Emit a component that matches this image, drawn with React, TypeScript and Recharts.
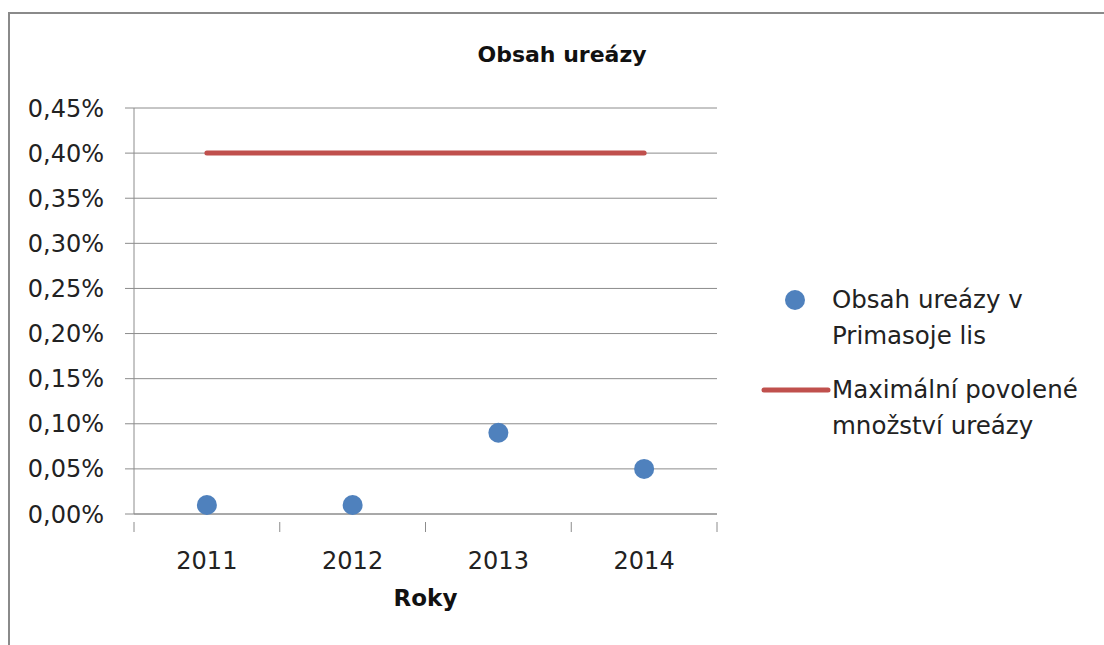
import { ComposedChart, Scatter, Line, XAxis, YAxis, CartesianGrid, Label } from "recharts";

// Roky a hodnoty obsahu ureázy
const years = ["2011", "2012", "2013", "2014"];
const ureaseContent = [0.0001, 0.0001, 0.0009, 0.0005];
const maxAllowed = [0.004, 0.004, 0.004, 0.004];
const yTicks = [0, 0.0005, 0.001, 0.0015, 0.002, 0.0025, 0.003, 0.0035, 0.004, 0.0045];

const data = years.map((year, i) => ({
  year,
  content: ureaseContent[i],
  max: maxAllowed[i],
}));

const FONT = "'DejaVu Sans', sans-serif";
const GRID = "#8c8c8c";
const BLUE = "#4F81BD";
const RED = "#C0504D";

const W = 1104;
const H = 645;
const MARGIN = { top: 108, right: 387, bottom: 0, left: 0 };
const Y_WIDTH = 134;
const BAND_HALF = (W - MARGIN.right - Y_WIDTH) / years.length / 2;

const formatPct = (v: number) => (v * 100).toFixed(2).replace(".", ",") + "%";

const XTick = (props: any) => {
  const { x, y, payload, index } = props;
  return (
    <g>
      <line x1={x - BAND_HALF} x2={x - BAND_HALF} y1={y} y2={y + 10} stroke={GRID} />
      {index === years.length - 1 && (
        <line x1={x + BAND_HALF} x2={x + BAND_HALF} y1={y} y2={y + 10} stroke={GRID} />
      )}
      <text x={x} y={y + 47} textAnchor="middle" fontSize={24} fill="#222" fontFamily={FONT}>
        {payload.value}
      </text>
    </g>
  );
};

const ChartLegend = () => (
  <div
    style={{
      position: "absolute",
      left: 760,
      top: 282,
      fontFamily: FONT,
      fontSize: 24.5,
      color: "#222",
      lineHeight: "36px",
    }}
  >
    <div style={{ display: "flex", alignItems: "flex-start", marginBottom: 18 }}>
      <svg width={72} height={36}>
        <circle cx={35} cy={18} r={10} fill={BLUE} />
      </svg>
      <div>
        Obsah ureázy v<br />Primasoje lis
      </div>
    </div>
    <div style={{ display: "flex", alignItems: "flex-start" }}>
      <svg width={72} height={36}>
        <line x1={4} x2={68} y1={18} y2={18} stroke={RED} strokeWidth={5} strokeLinecap="round" />
      </svg>
      <div>
        Maximální povolené<br />množství ureázy
      </div>
    </div>
  </div>
);

export default function App() {
  return (
    <div style={{ position: "absolute", left: 0, top: 0, width: W, height: H, background: "#fff" }}>
      <div
        style={{
          position: "absolute",
          left: 8,
          top: 12,
          right: 0,
          bottom: 0,
          borderLeft: "2px solid #8a8a8a",
          borderTop: "2px solid #8a8a8a",
        }}
      />
      <div
        style={{
          position: "absolute",
          left: 562,
          top: 42,
          transform: "translateX(-50%)",
          whiteSpace: "nowrap",
          fontFamily: FONT,
          fontWeight: "bold",
          fontSize: 22,
          color: "#111",
        }}
      >
        Obsah ureázy
      </div>
      <ComposedChart width={W} height={H} data={data} margin={MARGIN} style={{ position: "absolute", left: 0, top: 0 }}>
        <CartesianGrid horizontal vertical={false} stroke={GRID} />
        <XAxis
          dataKey="year"
          type="category"
          scale="band"
          stroke={GRID}
          tickLine={false}
          tick={<XTick />}
          interval={0}
          height={131}
        >
          <Label
            value="Roky"
            position="insideTop"
            offset={76}
            style={{ fontFamily: FONT, fontWeight: "bold", fontSize: 23, fill: "#111" }}
          />
        </XAxis>
        <YAxis
          width={Y_WIDTH}
          domain={[0, 0.0045]}
          ticks={yTicks}
          tickFormatter={formatPct}
          stroke={GRID}
          tickSize={9}
          tickMargin={21}
          tick={{ fontFamily: FONT, fontSize: 24, fill: "#222" }}
          interval={0}
        />
        <Line
          dataKey="max"
          stroke={RED}
          strokeWidth={5}
          strokeLinecap="round"
          dot={false}
          activeDot={false}
          isAnimationActive={false}
        />
        <Scatter
          dataKey="content"
          fill={BLUE}
          isAnimationActive={false}
          shape={(p: any) => <circle cx={p.cx} cy={p.cy} r={10} fill={BLUE} />}
        />
      </ComposedChart>
      <ChartLegend />
    </div>
  );
}
